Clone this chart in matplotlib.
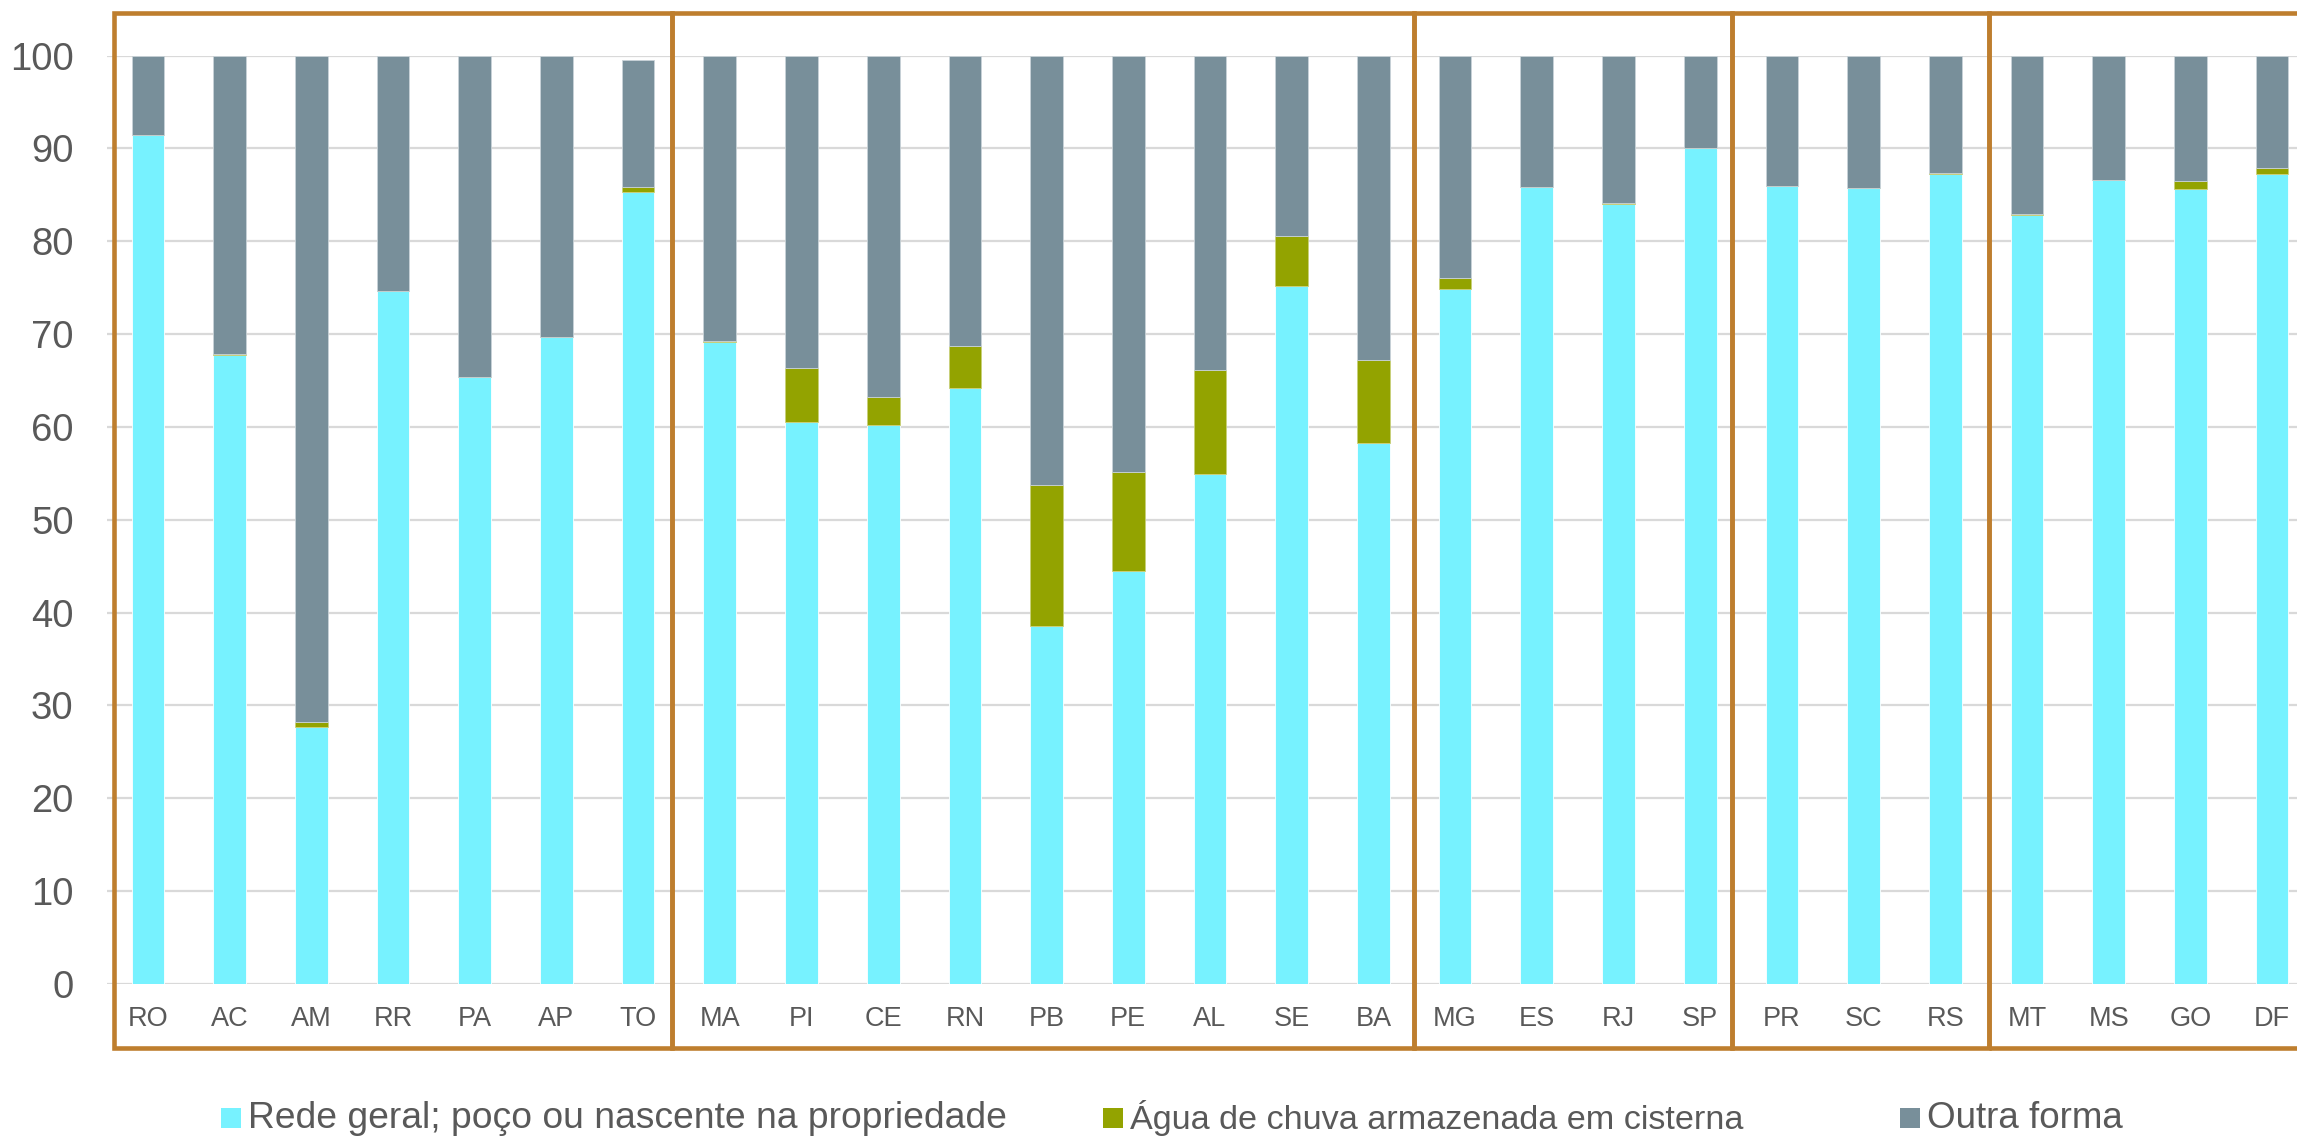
import matplotlib
matplotlib.use("Agg")
import matplotlib.pyplot as plt
from matplotlib.patches import Rectangle
import numpy as np

plt.rcParams['font.family'] = ['Liberation Sans', 'DejaVu Sans']

states = ["RO", "AC", "AM", "RR", "PA", "AP", "TO",
          "MA", "PI", "CE", "RN", "PB", "PE", "AL", "SE", "BA",
          "MG", "ES", "RJ", "SP",
          "PR", "SC", "RS",
          "MT", "MS", "GO", "DF"]

rede = [91.5, 67.8, 27.7, 74.6, 65.4, 69.7, 85.3,
        69.2, 60.5, 60.2, 64.2, 38.6, 44.5, 54.9, 75.2, 58.3,
        74.9, 85.8, 84.0, 90.0,
        86.0, 85.7, 87.3,
        82.8, 86.6, 85.6, 87.2]

chuva = [0.0, 0.1, 0.5, 0.0, 0.0, 0.0, 0.6,
         0.1, 5.9, 3.0, 4.5, 15.2, 10.7, 11.2, 5.4, 8.9,
         1.1, 0.1, 0.1, 0.0,
         0.0, 0.0, 0.1,
         0.1, 0.0, 0.9, 0.7]

outra = [8.5, 32.1, 71.8, 25.4, 34.6, 30.3, 13.6,
         30.7, 33.6, 36.8, 31.3, 46.2, 44.8, 33.9, 19.4, 32.8,
         24.0, 14.1, 15.9, 10.0,
         14.0, 14.3, 12.6,
         17.1, 13.4, 13.5, 12.1]

series_names = ["Rede geral; poço ou nascente na propriedade",
                "Água de chuva armazenada em cisterna",
                "Outra forma"]
colors = ["#77F2FF", "#93A300", "#788F9A"]

# region groups (first index, last index)
groups = [(0, 6), (7, 15), (16, 19), (20, 22), (23, 26)]

W, H = 2297, 1136
fig = plt.figure(figsize=(W / 100, H / 100), dpi=100)
ax = fig.add_axes([107 / W, (H - 984) / H, 2206 / W, (984 - 55.6) / H])

x = np.arange(len(states))
bw = 0.4
r = np.array(rede)
c = np.array(chuva)
o = np.array(outra)
ax.bar(x, r, bw, color=colors[0], edgecolor="white", linewidth=0.6, zorder=3)
ax.bar(x, c, bw, bottom=r, color=colors[1], edgecolor="#C8D07A", linewidth=0.6, zorder=3)
ax.bar(x, o, bw, bottom=r + c, color=colors[2], edgecolor="#C9D3D8", linewidth=0.6, zorder=3)

ax.set_xlim(-0.5, len(states) - 0.5)
ax.set_ylim(0, 100)
ax.set_yticks(range(0, 101, 10))
ax.set_xticks(x)
ax.set_xticklabels(states)
ax.grid(axis="y", color="#D9D9D9", linewidth=1.6, zorder=0)
ax.set_axisbelow(True)
for s in ax.spines.values():
    s.set_visible(False)
ax.tick_params(axis="y", length=0, pad=24, labelsize=27.5, labelcolor="#595959")
ax.tick_params(axis="x", length=0, pad=16, labelsize=19.5, labelcolor="#595959")

# region boxes
edges = [-0.416, 6.41, 15.50, 19.39, 22.53, 26.7]
box_color = "#BE7E2E"
for i in range(len(groups)):
    x0, x1 = edges[i], edges[i + 1]
    rect = Rectangle((x0, -6.9), x1 - x0, 104.6 + 6.9, fill=False,
                     edgecolor=box_color, linewidth=3.3, clip_on=False, zorder=5)
    ax.add_patch(rect)

# legend
leg_y = 1118
marker_x = [221, 1103, 1900]
leg_sizes = [26.8, 24.6, 26.5]
for name, col, mx, fs in zip(series_names, colors, marker_x, leg_sizes):
    fig.patches.append(Rectangle((mx / W, (H - leg_y - 10) / H), 20 / W, 20 / H,
                                 transform=fig.transFigure, facecolor=col,
                                 edgecolor="none", figure=fig))
    fig.text((mx + 27) / W, (H - leg_y) / H, name, fontsize=fs, color="#595959",
             va="center", ha="left")

fig.savefig("out.png", dpi=100)
